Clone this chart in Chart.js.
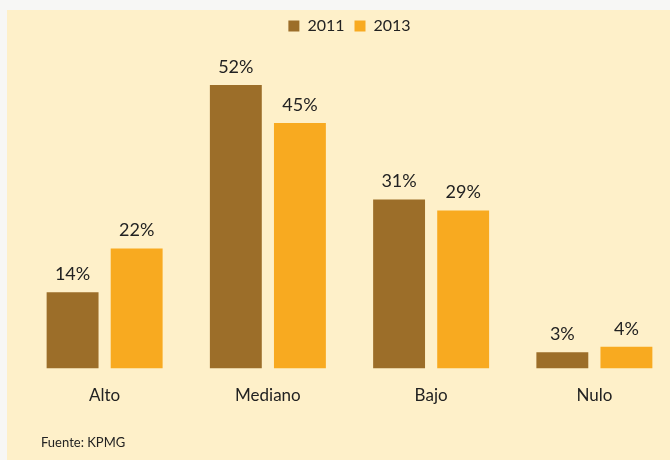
<!DOCTYPE html>
<html>
<head>
<meta charset="utf-8">
<script src="https://cdn.jsdelivr.net/npm/chart.js@4"></script>
<style>
  html, body { margin: 0; padding: 0; background: #f7f7f5; }
  body { width: 670px; height: 460px; position: relative; overflow: hidden; font-family: Lato, "Open Sans", sans-serif; }
  #panel { position: absolute; left: 7px; top: 10px; right: 0; bottom: 0; background: #fef0c9; }
  #wrap { position: absolute; left: 0; top: 0; width: 676px; height: 460px; }
  #source { position: absolute; left: 41px; top: 434px; font-size: 13px; color: #222; }
</style>
</head>
<body>
<div id="panel"></div>
<div id="wrap"><canvas id="chart"></canvas></div>
<div id="source">Fuente: KPMG</div>
<script>
// nivel por categoría, 2011 vs 2013
const categories = ['Alto', 'Mediano', 'Bajo', 'Nulo'];
const values2011 = [14, 52, 31, 3];
const values2013 = [22, 45, 29, 4];

const brown = '#9c6e29';
const orange = '#f8aa20';
const fontFam = 'Lato, "Open Sans", sans-serif';

// writes "NN%" above every bar
const barLabels = {
  id: 'barLabels',
  afterDatasetsDraw(chart) {
    const ctx = chart.ctx;
    ctx.save();
    ctx.font = '18px ' + fontFam;
    ctx.fillStyle = '#222';
    ctx.textAlign = 'center';
    ctx.textBaseline = 'bottom';
    chart.data.datasets.forEach((ds, i) => {
      chart.getDatasetMeta(i).data.forEach((bar, j) => {
        ctx.fillText(ds.data[j] + '%', bar.x, bar.y - 9);
      });
    });
    ctx.restore();
  }
};

new Chart(document.getElementById('chart'), {
  type: 'bar',
  data: {
    labels: categories,
    datasets: [
      { label: '2011', data: values2011, backgroundColor: brown },
      { label: '2013', data: values2013, backgroundColor: orange }
    ]
  },
  options: {
    responsive: true,
    maintainAspectRatio: false,
    animation: false,
    categoryPercentage: 0.785,
    barPercentage: 0.81,
    layout: { padding: { left: 23, right: 0, top: 8, bottom: 45 } },
    plugins: {
      legend: {
        position: 'top',
        labels: {
          boxWidth: 11, boxHeight: 11, padding: 10, color: '#222',
          font: { family: fontFam, size: 16 }
        }
      },
      tooltip: { enabled: false }
    },
    scales: {
      x: {
        grid: { display: false }, border: { display: false },
        ticks: { padding: 9, color: '#222', font: { family: fontFam, size: 17 } }
      },
      y: { display: false, min: 0, max: 59.5 }
    }
  },
  plugins: [barLabels]
});
</script>
</body>
</html>
